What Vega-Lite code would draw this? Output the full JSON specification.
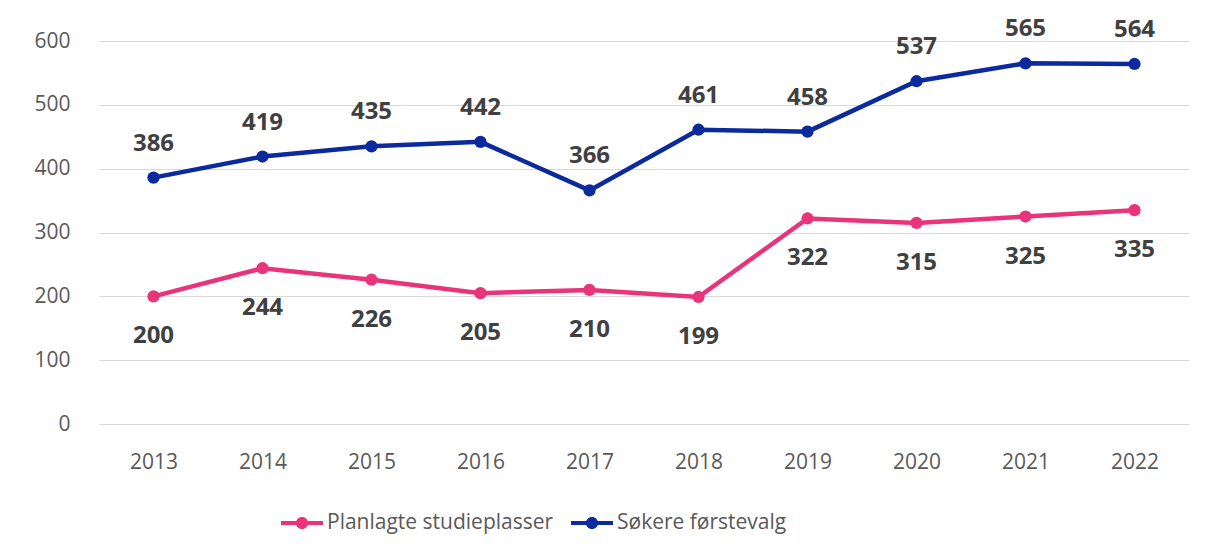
{
  "$schema": "https://vega.github.io/schema/vega-lite/v6.json",
  "width": 1090,
  "height": 383,
  "autosize": "none",
  "padding": {"left": 99, "top": 41, "right": 19, "bottom": 131},
  "background": "white",
  "config": {
    "view": {"stroke": null},
    "font": "Open Sans"
  },
  "data": {
    "values": [
      {"year": "2013", "series": "Planlagte studieplasser", "value": 200},
      {"year": "2014", "series": "Planlagte studieplasser", "value": 244},
      {"year": "2015", "series": "Planlagte studieplasser", "value": 226},
      {"year": "2016", "series": "Planlagte studieplasser", "value": 205},
      {"year": "2017", "series": "Planlagte studieplasser", "value": 210},
      {"year": "2018", "series": "Planlagte studieplasser", "value": 199},
      {"year": "2019", "series": "Planlagte studieplasser", "value": 322},
      {"year": "2020", "series": "Planlagte studieplasser", "value": 315},
      {"year": "2021", "series": "Planlagte studieplasser", "value": 325},
      {"year": "2022", "series": "Planlagte studieplasser", "value": 335},
      {"year": "2013", "series": "Søkere førstevalg", "value": 386},
      {"year": "2014", "series": "Søkere førstevalg", "value": 419},
      {"year": "2015", "series": "Søkere førstevalg", "value": 435},
      {"year": "2016", "series": "Søkere førstevalg", "value": 442},
      {"year": "2017", "series": "Søkere førstevalg", "value": 366},
      {"year": "2018", "series": "Søkere førstevalg", "value": 461},
      {"year": "2019", "series": "Søkere førstevalg", "value": 458},
      {"year": "2020", "series": "Søkere førstevalg", "value": 537},
      {"year": "2021", "series": "Søkere førstevalg", "value": 565},
      {"year": "2022", "series": "Søkere førstevalg", "value": 564}
    ]
  },
  "encoding": {
    "x": {
      "field": "year", "type": "ordinal",
      "scale": {"paddingInner": 0, "paddingOuter": 0},
      "axis": {
        "title": null, "labelAngle": 0, "domain": false, "ticks": false,
        "labelFontSize": 21, "labelColor": "#595959", "labelPadding": 27,
        "labelFont": "Open Sans"
      }
    },
    "y": {
      "field": "value", "type": "quantitative",
      "scale": {"domain": [0, 600], "nice": false},
      "axis": {
        "title": null, "values": [0, 100, 200, 300, 400, 500, 600],
        "domain": false, "ticks": false, "labelPadding": 29,
        "labelFontSize": 21, "labelColor": "#595959",
        "gridColor": "#d9d9d9", "gridWidth": 1.2
      }
    },
    "color": {
      "field": "series", "type": "nominal",
      "scale": {
        "domain": ["Planlagte studieplasser", "Søkere førstevalg"],
        "range": ["#e9337a", "#0a2a9e"]
      },
      "legend": {
        "title": null, "orient": "none", "direction": "horizontal",
        "legendX": 182, "legendY": 461,
        "symbolType": "M-1,-0.1L1,-0.1L1,0.1L-1,0.1Z M0.29,0A0.29,0.29,0,1,1,-0.29,0A0.29,0.29,0,1,1,0.29,0Z",
        "symbolSize": 1764, "symbolStrokeWidth": 0, "symbolOpacity": 1,
        "labelFontSize": 21, "labelColor": "#595959", "labelOffset": 4,
        "columnPadding": 17, "labelLimit": 400
      }
    }
  },
  "layer": [
    {
      "mark": {"type": "line", "strokeWidth": 4.5}
    },
    {
      "mark": {"type": "point", "filled": true, "size": 150, "opacity": 1}
    },
    {
      "transform": [{"filter": "datum.series === 'Søkere førstevalg'"}],
      "mark": {"type": "text", "dy": -34, "fontSize": 24, "fontWeight": "bold", "font": "Open Sans"},
      "encoding": {"text": {"field": "value", "type": "quantitative"}, "color": {"value": "#404040"}}
    },
    {
      "transform": [{"filter": "datum.series === 'Planlagte studieplasser'"}],
      "mark": {"type": "text", "dy": 40, "fontSize": 24, "fontWeight": "bold", "font": "Open Sans"},
      "encoding": {"text": {"field": "value", "type": "quantitative"}, "color": {"value": "#404040"}}
    }
  ]
}
